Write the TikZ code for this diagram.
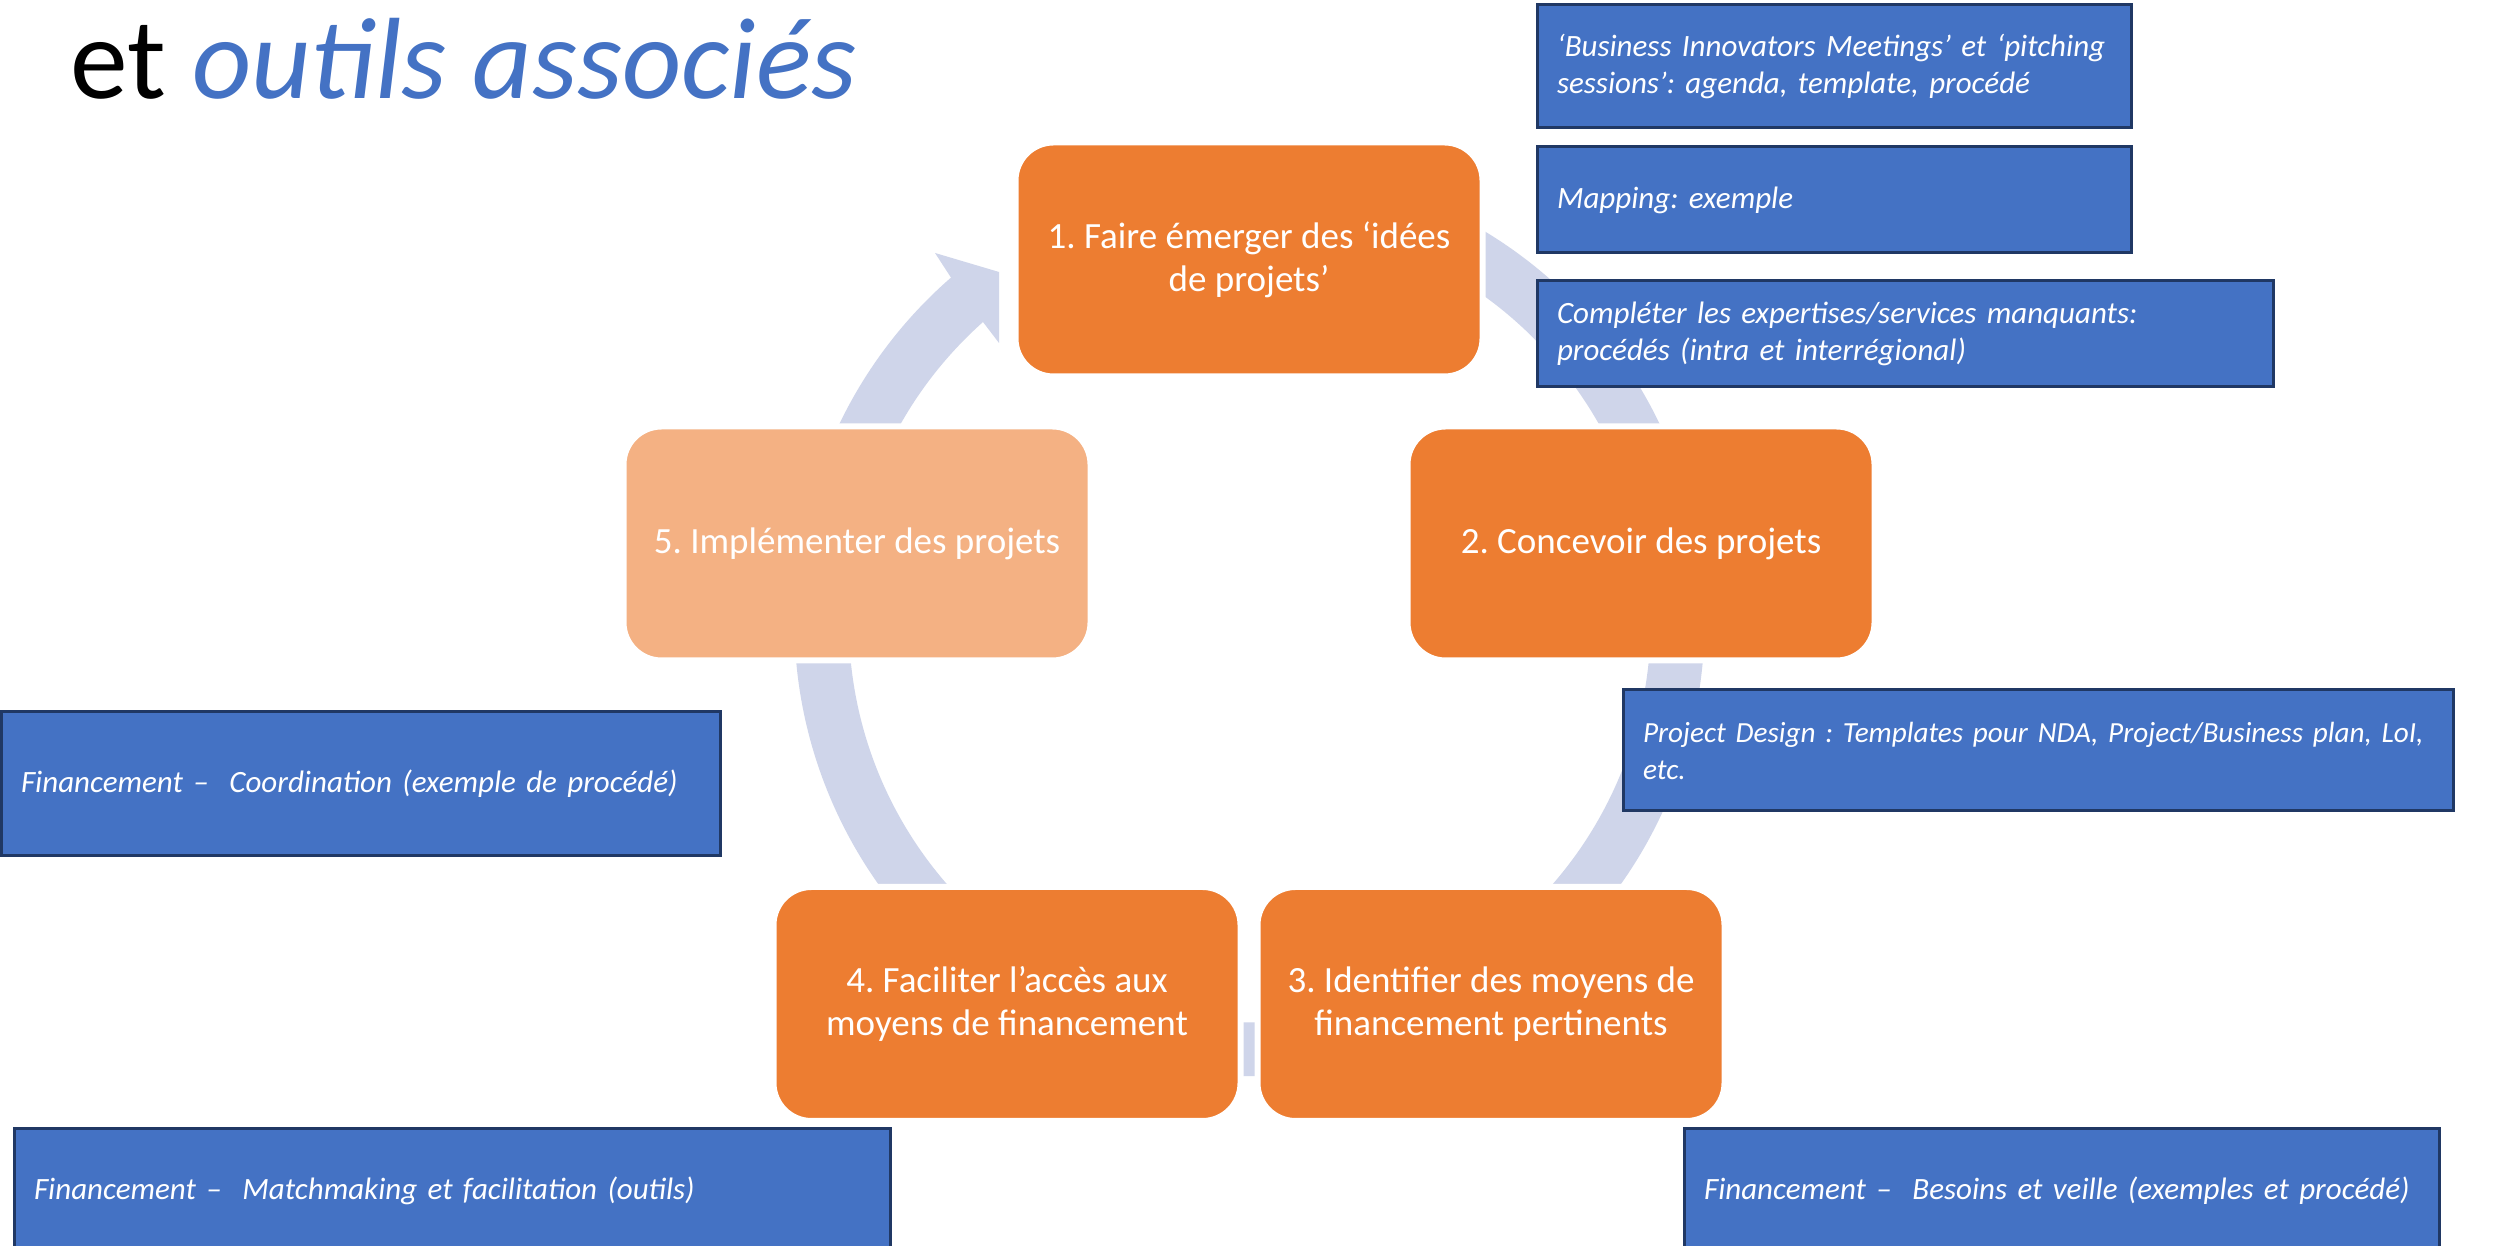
\documentclass[tikz,border=0pt]{standalone}
\usepackage{fontspec}
\setmainfont{Carlito}
\usetikzlibrary{calc}
\definecolor{orangeA}{HTML}{ED7D31}
\definecolor{orangeL}{HTML}{F4B183}
\definecolor{ringc}{HTML}{CFD5EA}
\definecolor{boxblue}{HTML}{4472C4}
\definecolor{boxline}{HTML}{203864}
\frenchspacing
\begin{document}
\begin{tikzpicture}[x=0.5pt,y=0.5pt,
  stepnode/.style={draw=white, line width=3pt, fill=orangeA, rounded corners=19pt,
    minimum width=233.5pt, minimum height=117pt, text=white, align=center,
    font=\fontsize{18.5}{21.5}\selectfont, inner sep=0pt},
  toolbox/.style={draw=boxline, line width=1.5pt, fill=boxblue, text=white, align=left,
    anchor=west, outer sep=0pt, inner xsep=10pt, inner ysep=0pt,
    font=\itshape\fontsize{15.5}{18.5}\selectfont}
]
\clip (0,0) rectangle (2503,1246);
\fill[white] (0,0) rectangle (2503,1246);
\coordinate (C) at (1249.5,625);
% ring arrow
\fill[ringc] ($(C)+(75:455)$) arc[start angle=75, end angle=-229, radius=455]
  -- (935,993) -- (999,974) -- (999,903) -- (983,924)
  arc[start angle=-228.3, end angle=75, radius=401] -- cycle;
% steps
\node[stepnode] (s1) at (1249,986.5) {1. Faire émerger des ‘idées\\de projets’};
\node[stepnode] (s2) at (1641,702.5) {2. Concevoir des projets};
\node[stepnode] (s3) at (1491,242) {3. Identifier des moyens de\\financement pertinents};
\node[stepnode] (s4) at (1007,242) {4. Faciliter l’accès aux\\moyens de financement};
\node[stepnode, fill=orangeL] (s5) at (857,702.5) {5. Implémenter des projets};
% tool boxes
\node[toolbox, minimum height=61.5pt, text width=277pt] (t1) at (1537,1179.5)
  {‘Business Innovators Meetings’ et ‘pitching\\sessions’: agenda, template, procédé};
\node[toolbox, minimum height=53pt, text width=277pt] (t2) at (1537,1046) {Mapping: exemple};
\node[toolbox, minimum height=53pt, text width=348pt] (t3) at (1537,912)
  {Compléter les expertises/services manquants:\\procédés (intra et interrégional)};
\node[toolbox, minimum height=60.5pt, text width=395pt,
  font=\itshape\fontsize{14.6}{18.5}\selectfont] (t4) at (1623,495.5)
  {\mbox{Project Design : Templates pour NDA, Project/Business plan, LoI,}\\etc.};
\node[toolbox, minimum height=62pt, text width=357.5pt] (t5) at (1684,55)
  {Financement –\ \ Besoins et veille (exemples et procédé)};
\node[toolbox, minimum height=72pt, text width=339.5pt] (t6) at (1,462)
  {Financement –\ \ Coordination (exemple de procédé)};
\node[toolbox, minimum height=62pt, text width=418pt] (t7) at (14,55)
  {Financement –\ \ Matchmaking et facilitation (outils)};
% title
\node[anchor=base west, inner sep=0pt, font=\fontsize{57.8}{69}\selectfont] (title) at (70,1147)
  {et \textcolor{boxblue}{\itshape outils associés}};
\end{tikzpicture}
\end{document}
